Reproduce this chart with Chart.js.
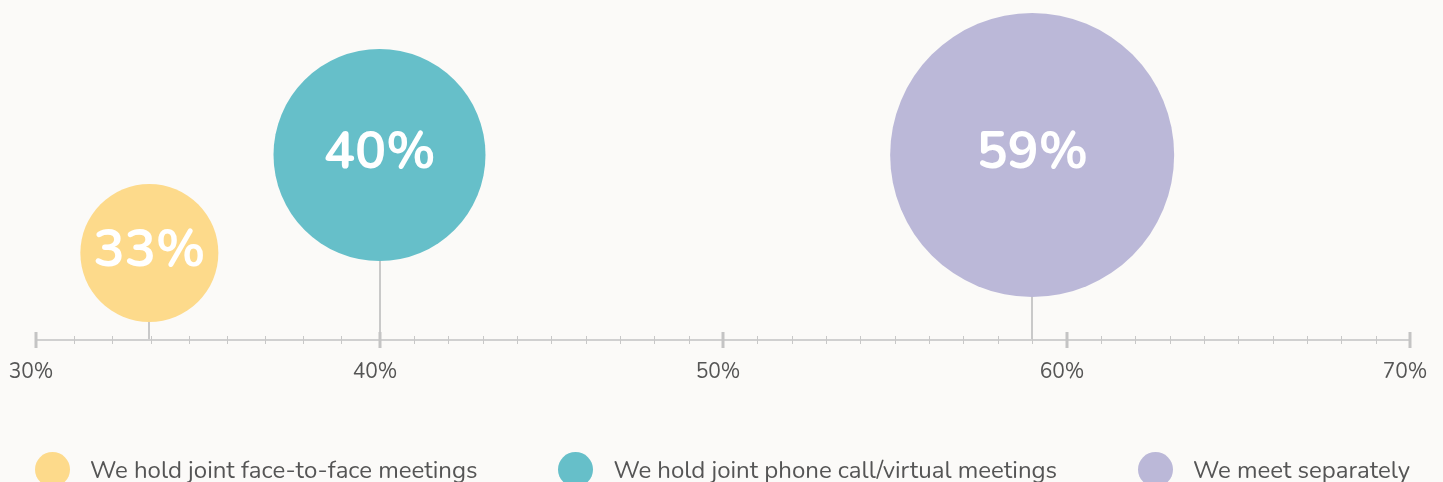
<!DOCTYPE html>
<html lang="en">
<head>
  <meta charset="UTF-8" />
  <title>Meeting formats</title>
  <script src="https://cdn.jsdelivr.net/npm/chart.js"></script>
  <style>
    body { margin: 0; background: #fbfaf8; font-family: "Nunito", "Lato", "Noto Sans", sans-serif; }
    #wrap { position: relative; width: 1443px; height: 482px; overflow: hidden; }
    #legend {
      position: absolute; left: 35px; width: 1375px; top: 452px;
      display: flex; justify-content: space-between; align-items: center;
    }
    #legend .item { display: flex; align-items: center; color: #555; font-size: 24px; }
    #legend .dot { width: 35px; height: 35px; border-radius: 50%; margin-right: 20px; }
  </style>
</head>
<body>
  <div id="wrap">
    <canvas id="bubbleChart" width="1443" height="482"></canvas>
    <div id="legend"></div>
  </div>

  <script>
    const categories = [
      "We hold joint face-to-face meetings",
      "We hold joint phone call/virtual meetings",
      "We meet separately"
    ];
    const shares = [33.3, 40, 59];           // % position on the axis
    const shareLabels = ["33%", "40%", "59%"];
    const bubbleRadius = [69, 106, 142];      // px
    const bubbleHeight = [87, 185, 185];      // height of centre above the axis
    const colors = ["#fdda8b", "#66bfc9", "#bbb8d8"];

    const axisTicks = [30, 40, 50, 60, 70];
    const axisLabels = ["30%", "40%", "50%", "60%", "70%"];
    const minorSteps = [9, 10, 10, 10];       // minor divisions per segment

    const axisPlugin = {
      id: "axisPlugin",
      beforeDatasetsDraw(chart) {
        const { ctx, chartArea } = chart;
        const xs = chart.scales.x, ys = chart.scales.y;
        const y0 = chartArea.bottom;
        ctx.save();

        // stems from bubble bottom to axis
        ctx.strokeStyle = "#c9c9c9";
        ctx.lineWidth = 2;
        shares.forEach((v, i) => {
          const px = Math.round(xs.getPixelForValue(v));
          const top = ys.getPixelForValue(bubbleHeight[i]) + bubbleRadius[i] - 2;
          ctx.beginPath();
          ctx.moveTo(px, top);
          ctx.lineTo(px, y0);
          ctx.stroke();
        });

        // axis line
        ctx.strokeStyle = "#d0d0d0";
        ctx.lineWidth = 2;
        ctx.beginPath();
        ctx.moveTo(xs.getPixelForValue(axisTicks[0]), y0);
        ctx.lineTo(xs.getPixelForValue(axisTicks[axisTicks.length - 1]), y0);
        ctx.stroke();

        // minor ticks
        ctx.lineWidth = 1;
        ctx.strokeStyle = "#c8c8c8";
        for (let s = 0; s < axisTicks.length - 1; s++) {
          const a = axisTicks[s], b = axisTicks[s + 1], n = minorSteps[s];
          for (let k = 1; k < n; k++) {
            const px = Math.round(xs.getPixelForValue(a + (b - a) * k / n)) + 0.5;
            ctx.beginPath();
            ctx.moveTo(px, y0 - 4);
            ctx.lineTo(px, y0 + 4);
            ctx.stroke();
          }
        }

        // major ticks + labels
        ctx.fillStyle = "#555";
        ctx.font = "21px Nunito, Lato, 'Noto Sans', sans-serif";
        ctx.textAlign = "center";
        ctx.textBaseline = "middle";
        axisTicks.forEach((t, i) => {
          const px = Math.round(xs.getPixelForValue(t));
          ctx.strokeStyle = "#c4c4c4";
          ctx.lineWidth = 3;
          ctx.beginPath();
          ctx.moveTo(px, y0 - 8);
          ctx.lineTo(px, y0 + 8);
          ctx.stroke();
          ctx.fillText(axisLabels[i], px - 5, y0 + 33);
        });
        ctx.restore();
      },
      afterDatasetsDraw(chart) {
        const { ctx } = chart;
        const meta = chart.getDatasetMeta(0);
        ctx.save();
        ctx.fillStyle = "#ffffff";
        ctx.font = "bold 52px Nunito, Lato, 'Noto Sans', sans-serif";
        ctx.textAlign = "center";
        ctx.textBaseline = "middle";
        meta.data.forEach((el, i) => {
          ctx.fillText(shareLabels[i], el.x, el.y);
        });
        ctx.restore();
      }
    };

    new Chart(document.getElementById("bubbleChart"), {
      type: "bubble",
      data: {
        datasets: [{
          data: shares.map((v, i) => ({ x: v, y: bubbleHeight[i], r: bubbleRadius[i] })),
          backgroundColor: colors,
          borderWidth: 0,
          hoverRadius: 0,
          hoverBorderWidth: 0,
          clip: false
        }]
      },
      options: {
        responsive: false,
        animation: false,
        layout: { autoPadding: false, padding: { left: 36, right: 33, top: 0, bottom: 142 } },
        scales: {
          x: { type: "linear", min: 30, max: 70, display: false },
          y: { type: "linear", min: 0, max: 340, display: false }
        },
        plugins: { legend: { display: false }, tooltip: { enabled: false } },
        events: []
      },
      plugins: [axisPlugin]
    });

    document.getElementById("legend").innerHTML = categories.map((c, i) =>
      `<div class="item"><span class="dot" style="background:${colors[i]}"></span>${c}</div>`
    ).join("");
  </script>
</body>
</html>
